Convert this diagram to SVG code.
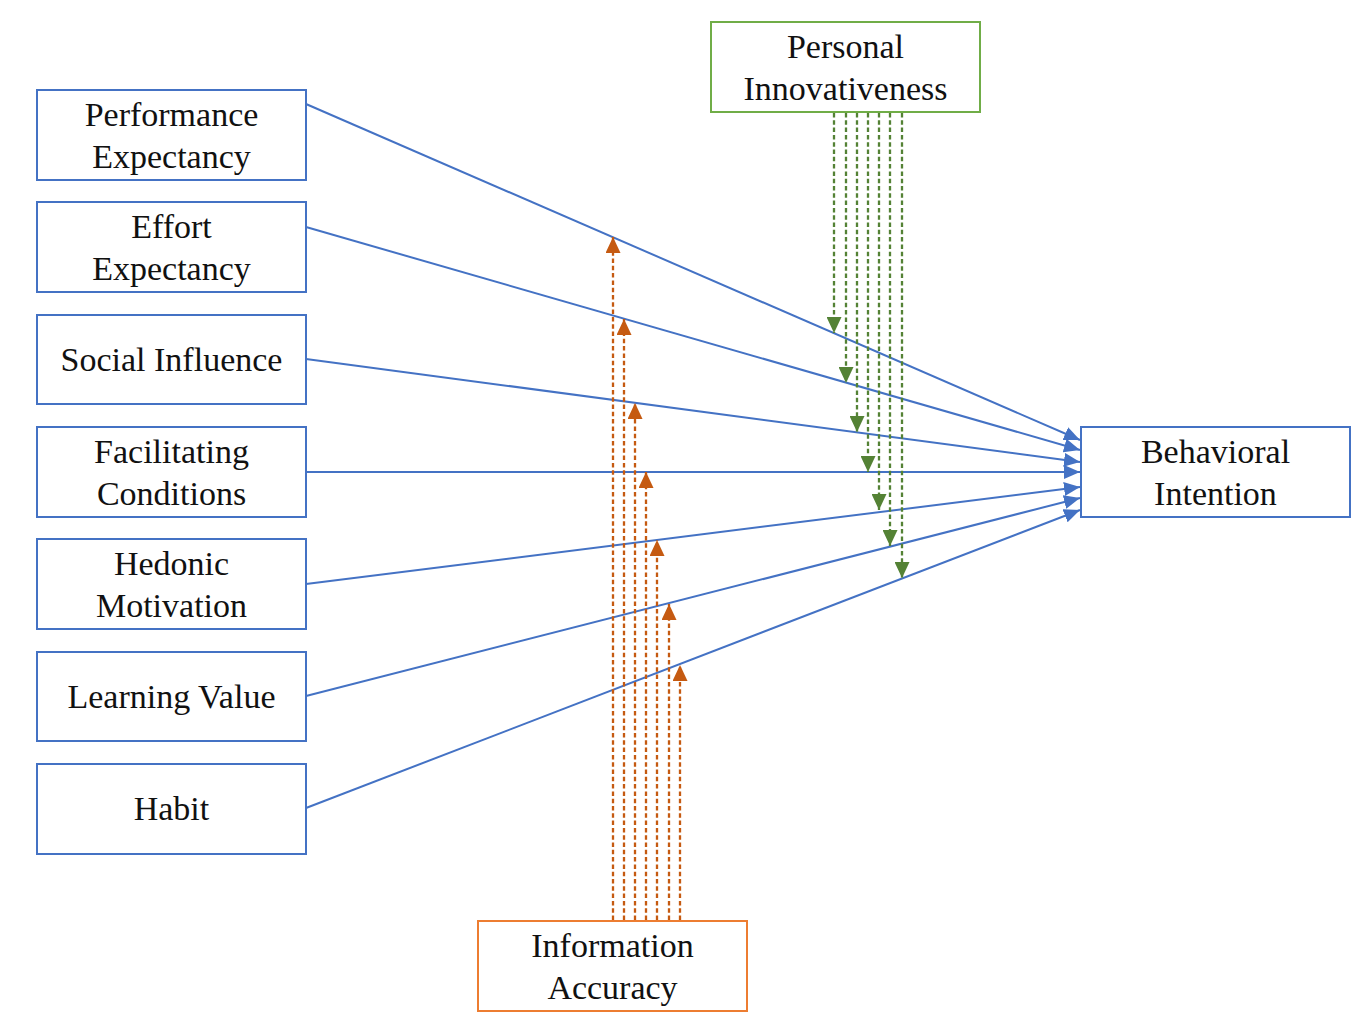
<svg xmlns="http://www.w3.org/2000/svg" width="1367" height="1033" viewBox="0 0 1367 1033">
<style>
.box{fill:#fff;stroke-width:2}
.bl{stroke:#4472C4}
.gr{stroke:#70AD47}
.or{stroke:#ED7D31}
text{font-family:"Liberation Serif","Times New Roman",serif;font-size:34px;fill:#111;text-anchor:middle}
.main{stroke:#4472C4;stroke-width:2;fill:none;marker-end:url(#ab)}
.gd{stroke:#548235;stroke-width:2.3;stroke-dasharray:4.5 2.8;fill:none;marker-end:url(#ag)}
.od{stroke:#C55A11;stroke-width:2.3;stroke-dasharray:4.5 2.8;fill:none;marker-end:url(#ao)}
</style>
<defs>
<marker id="ab" markerUnits="userSpaceOnUse" markerWidth="16" markerHeight="14" refX="16" refY="7" orient="auto"><path d="M0,0 L16,7 L0,14 z" fill="#4472C4"/></marker>
<marker id="ag" markerUnits="userSpaceOnUse" markerWidth="16" markerHeight="15" refX="16" refY="7.5" orient="auto"><path d="M0,0 L16,7.5 L0,15 z" fill="#548235"/></marker>
<marker id="ao" markerUnits="userSpaceOnUse" markerWidth="16" markerHeight="15" refX="16" refY="7.5" orient="auto"><path d="M0,0 L16,7.5 L0,15 z" fill="#C55A11"/></marker>
</defs>
<rect width="1367" height="1033" fill="#fff"/>
<g id="connectors">
<line class="main" x1="306" y1="104" x2="1080" y2="440"/>
<line class="main" x1="306" y1="227" x2="1080" y2="450"/>
<line class="main" x1="306" y1="359" x2="1080" y2="462"/>
<line class="main" x1="306" y1="472" x2="1080" y2="472"/>
<line class="main" x1="306" y1="584" x2="1080" y2="487"/>
<line class="main" x1="306" y1="696" x2="1080" y2="498"/>
<line class="main" x1="306" y1="808" x2="1080" y2="510"/>
<line class="gd" x1="834" y1="113" x2="834" y2="333"/>
<line class="gd" x1="846" y1="113" x2="846" y2="383"/>
<line class="gd" x1="857" y1="113" x2="857" y2="432"/>
<line class="gd" x1="868" y1="113" x2="868" y2="472"/>
<line class="gd" x1="879" y1="113" x2="879" y2="510"/>
<line class="gd" x1="890" y1="113" x2="890" y2="546"/>
<line class="gd" x1="902" y1="113" x2="902" y2="578"/>
<line class="od" x1="613" y1="920" x2="613" y2="237"/>
<line class="od" x1="624" y1="920" x2="624" y2="319"/>
<line class="od" x1="635" y1="920" x2="635" y2="403"/>
<line class="od" x1="646" y1="920" x2="646" y2="472"/>
<line class="od" x1="657" y1="920" x2="657" y2="540"/>
<line class="od" x1="669" y1="920" x2="669" y2="604"/>
<line class="od" x1="680" y1="920" x2="680" y2="665"/>
</g>
<g id="pe"><rect class="box bl" x="37" y="90" width="269" height="90"/><text x="171.5" y="126">Performance</text><text x="171.5" y="168">Expectancy</text></g>
<g id="ee"><rect class="box bl" x="37" y="202" width="269" height="90"/><text x="171.5" y="238">Effort</text><text x="171.5" y="280">Expectancy</text></g>
<g id="si"><rect class="box bl" x="37" y="315" width="269" height="89"/><text x="171.5" y="371">Social Influence</text></g>
<g id="fc"><rect class="box bl" x="37" y="427" width="269" height="90"/><text x="171.5" y="463">Facilitating</text><text x="171.5" y="505">Conditions</text></g>
<g id="hm"><rect class="box bl" x="37" y="539" width="269" height="90"/><text x="171.5" y="575">Hedonic</text><text x="171.5" y="617">Motivation</text></g>
<g id="lv"><rect class="box bl" x="37" y="652" width="269" height="89"/><text x="171.5" y="708">Learning Value</text></g>
<g id="hb"><rect class="box bl" x="37" y="764" width="269" height="90"/><text x="171.5" y="820">Habit</text></g>
<g id="bi"><rect class="box bl" x="1081" y="427" width="269" height="90"/><text x="1215.5" y="463">Behavioral</text><text x="1215.5" y="505">Intention</text></g>
<g id="pi"><rect class="box gr" x="711" y="22" width="269" height="90"/><text x="845.5" y="58">Personal</text><text x="845.5" y="100">Innovativeness</text></g>
<g id="ia"><rect class="box or" x="478" y="921" width="269" height="90"/><text x="612.5" y="957">Information</text><text x="612.5" y="999">Accuracy</text></g>
</svg>
